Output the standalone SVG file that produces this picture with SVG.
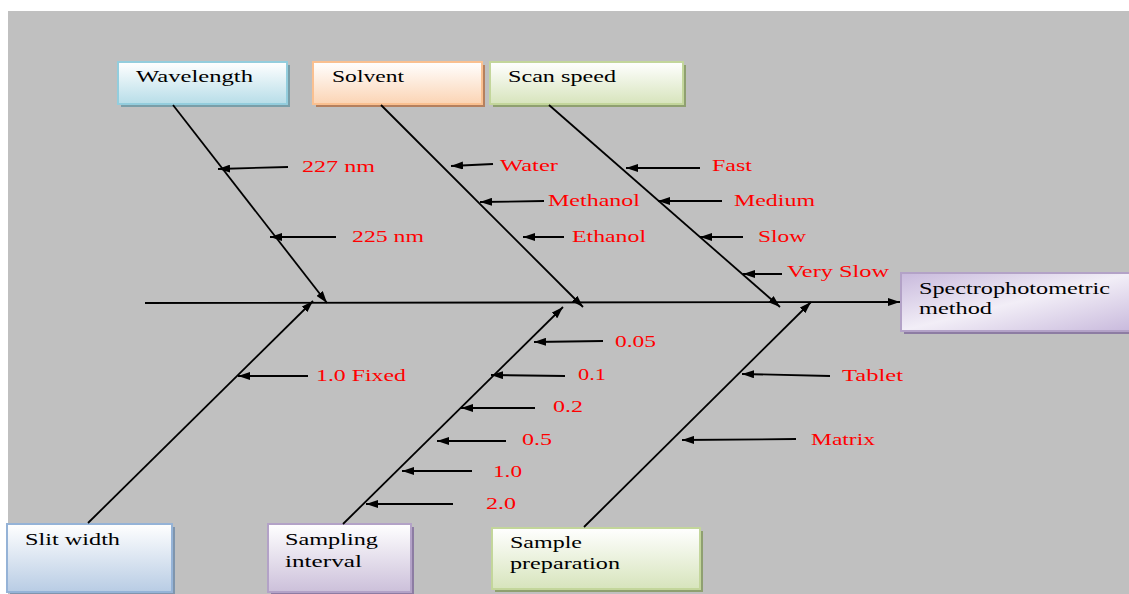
<svg xmlns="http://www.w3.org/2000/svg" width="1129" height="594" viewBox="0 0 1129 594">
<defs>
<linearGradient id="gBlueC" x1="0" y1="0" x2="0" y2="1"><stop offset="0" stop-color="#ffffff"/><stop offset="1" stop-color="#b7dde8"/></linearGradient>
<linearGradient id="gOrange" x1="0" y1="0" x2="0" y2="1"><stop offset="0" stop-color="#ffffff"/><stop offset="1" stop-color="#fbd4b4"/></linearGradient>
<linearGradient id="gGreen" x1="0" y1="0" x2="0" y2="1"><stop offset="0" stop-color="#ffffff"/><stop offset="1" stop-color="#d7e4bc"/></linearGradient>
<linearGradient id="gPurple" x1="0" y1="0" x2="0" y2="1"><stop offset="0" stop-color="#ffffff"/><stop offset="1" stop-color="#ccc0da"/></linearGradient>
<linearGradient id="gPurpleD" x1="0" y1="0" x2="1" y2="1"><stop offset="0" stop-color="#c8b9dc"/><stop offset="0.5" stop-color="#f2eef7"/><stop offset="1" stop-color="#c8b9dc"/></linearGradient>
<linearGradient id="gBlue" x1="0" y1="0" x2="0" y2="1"><stop offset="0" stop-color="#ffffff"/><stop offset="1" stop-color="#b8cce4"/></linearGradient>
<marker id="ah" viewBox="0 0 12 8" refX="12" refY="4" markerWidth="12" markerHeight="8" markerUnits="userSpaceOnUse" orient="auto"><path d="M0,0 L12,4 L0,8 z" fill="#000"/></marker>
</defs>
<style>
.box{stroke-width:2}
.t{font-family:"Liberation Serif","Times New Roman",serif;font-size:16.5px;fill:#000}
.r{font-family:"Liberation Serif","Times New Roman",serif;font-size:16.5px;fill:#ff0000}
.ar{stroke:#000;stroke-width:1.8;fill:none;marker-end:url(#ah)}
</style>
<rect x="8" y="11" width="1121" height="583" fill="#c0c0c0"/>

<g id="wavelength">
<rect x="121" y="65" width="169" height="42" fill="#7a9ea8"/>
<rect class="box" x="118" y="62" width="169" height="42" fill="url(#gBlueC)" stroke="#93cddd"/>
<text class="t" x="136" y="82" textLength="117" lengthAdjust="spacingAndGlyphs">Wavelength</text>
</g>
<g id="solvent">
<rect x="316" y="65" width="169" height="42" fill="#b5805e"/>
<rect class="box" x="313" y="62" width="169" height="42" fill="url(#gOrange)" stroke="#fac090"/>
<text class="t" x="332" y="82" textLength="72" lengthAdjust="spacingAndGlyphs">Solvent</text>
</g>
<g id="scanspeed">
<rect x="493" y="65" width="193" height="42" fill="#8fa070"/>
<rect class="box" x="490" y="62" width="193" height="42" fill="url(#gGreen)" stroke="#c3d69b"/>
<text class="t" x="508" y="82" textLength="108" lengthAdjust="spacingAndGlyphs">Scan speed</text>
</g>
<g id="spectro">
<rect x="904" y="276" width="230" height="58" fill="#8d7ca3"/>
<rect class="box" x="901" y="273" width="232" height="58" fill="url(#gPurpleD)" stroke="#b3a2c7"/>
<text class="t" x="919" y="294" textLength="191" lengthAdjust="spacingAndGlyphs">Spectrophotometric</text>
<text class="t" x="919" y="314" textLength="73" lengthAdjust="spacingAndGlyphs">method</text>
</g>
<g id="slitwidth">
<rect x="10" y="527" width="165" height="70" fill="#7f95ad"/>
<rect class="box" x="7" y="524" width="165" height="68" fill="url(#gBlue)" stroke="#95b3d7"/>
<text class="t" x="25" y="545" textLength="95" lengthAdjust="spacingAndGlyphs">Slit width</text>
</g>
<g id="samplinginterval">
<rect x="271" y="527" width="143" height="70" fill="#8d7ca3"/>
<rect class="box" x="268" y="524" width="143" height="68" fill="url(#gPurple)" stroke="#b3a2c7"/>
<text class="t" x="285" y="545" textLength="93" lengthAdjust="spacingAndGlyphs">Sampling</text>
<text class="t" x="285" y="567" textLength="77" lengthAdjust="spacingAndGlyphs">interval</text>
</g>
<g id="samplepreparation">
<rect x="495" y="531" width="208" height="61" fill="#8fa070"/>
<rect class="box" x="492" y="528" width="208" height="61" fill="url(#gGreen)" stroke="#c3d69b"/>
<text class="t" x="510" y="548" textLength="72" lengthAdjust="spacingAndGlyphs">Sample</text>
<text class="t" x="510" y="569" textLength="110" lengthAdjust="spacingAndGlyphs">preparation</text>
</g>

<g id="connectors">
<line class="ar" x1="145" y1="303" x2="900" y2="302"/>
<line class="ar" x1="173" y1="105" x2="327" y2="303"/>
<line class="ar" x1="381" y1="105" x2="583" y2="307"/>
<line class="ar" x1="549" y1="105" x2="780" y2="307"/>
<line class="ar" x1="88" y1="523" x2="313" y2="301"/>
<line class="ar" x1="343" y1="524" x2="563" y2="307"/>
<line class="ar" x1="584" y1="527" x2="811" y2="302"/>

<line class="ar" x1="288" y1="167" x2="218" y2="169"/>
<line class="ar" x1="336" y1="237" x2="270" y2="237"/>
<line class="ar" x1="493" y1="164" x2="451" y2="166"/>
<line class="ar" x1="544" y1="201" x2="480" y2="202"/>
<line class="ar" x1="564" y1="237" x2="523" y2="237"/>
<line class="ar" x1="700" y1="168" x2="626" y2="168"/>
<line class="ar" x1="722" y1="201" x2="658" y2="201"/>
<line class="ar" x1="743" y1="237" x2="700" y2="237"/>
<line class="ar" x1="782" y1="274" x2="743" y2="274"/>
<line class="ar" x1="308" y1="376" x2="238" y2="376"/>
<line class="ar" x1="603" y1="341" x2="534" y2="342"/>
<line class="ar" x1="565" y1="376" x2="491" y2="375"/>
<line class="ar" x1="535" y1="408" x2="461" y2="408"/>
<line class="ar" x1="506" y1="441" x2="437" y2="441"/>
<line class="ar" x1="472" y1="471" x2="402" y2="471"/>
<line class="ar" x1="453" y1="504" x2="366" y2="504"/>
<line class="ar" x1="830" y1="376" x2="742" y2="374"/>
<line class="ar" x1="796" y1="439" x2="682" y2="440"/>
</g>

<g id="labels">
<text class="r" x="302" y="172" textLength="73" lengthAdjust="spacingAndGlyphs">227 nm</text>
<text class="r" x="352" y="242" textLength="72" lengthAdjust="spacingAndGlyphs">225 nm</text>
<text class="r" x="500" y="171" textLength="58" lengthAdjust="spacingAndGlyphs">Water</text>
<text class="r" x="548" y="206" textLength="92" lengthAdjust="spacingAndGlyphs">Methanol</text>
<text class="r" x="572" y="242" textLength="74" lengthAdjust="spacingAndGlyphs">Ethanol</text>
<text class="r" x="712" y="171" textLength="40" lengthAdjust="spacingAndGlyphs">Fast</text>
<text class="r" x="734" y="206" textLength="81" lengthAdjust="spacingAndGlyphs">Medium</text>
<text class="r" x="758" y="242" textLength="48" lengthAdjust="spacingAndGlyphs">Slow</text>
<text class="r" x="787" y="277" textLength="102" lengthAdjust="spacingAndGlyphs">Very Slow</text>
<text class="r" x="316" y="381" textLength="90" lengthAdjust="spacingAndGlyphs">1.0 Fixed</text>
<text class="r" x="615" y="347" textLength="41" lengthAdjust="spacingAndGlyphs">0.05</text>
<text class="r" x="578" y="380" textLength="28" lengthAdjust="spacingAndGlyphs">0.1</text>
<text class="r" x="553" y="412" textLength="30" lengthAdjust="spacingAndGlyphs">0.2</text>
<text class="r" x="522" y="445" textLength="30" lengthAdjust="spacingAndGlyphs">0.5</text>
<text class="r" x="493" y="477" textLength="29" lengthAdjust="spacingAndGlyphs">1.0</text>
<text class="r" x="486" y="509" textLength="30" lengthAdjust="spacingAndGlyphs">2.0</text>
<text class="r" x="842" y="381" textLength="61" lengthAdjust="spacingAndGlyphs">Tablet</text>
<text class="r" x="811" y="445" textLength="64" lengthAdjust="spacingAndGlyphs">Matrix</text>
</g>
</svg>
